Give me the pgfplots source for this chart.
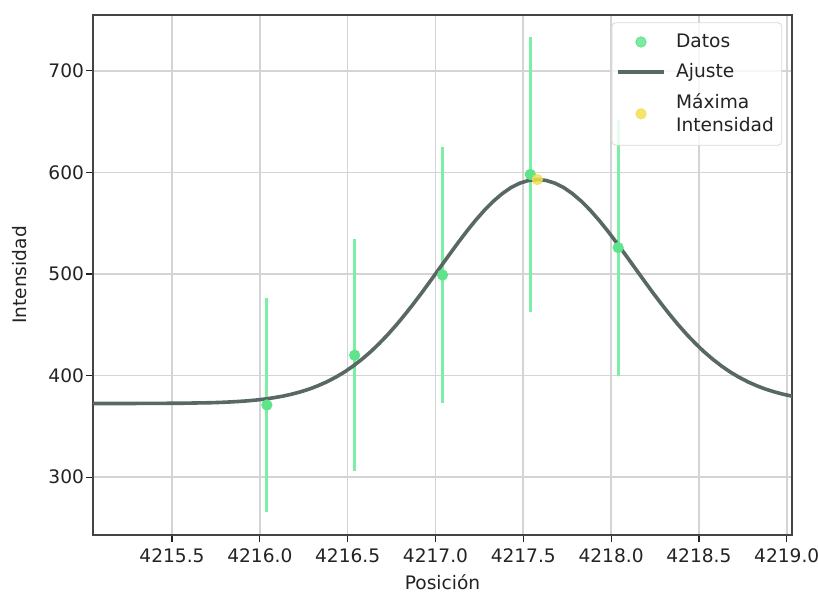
\documentclass[border=0pt]{standalone}
\usepackage{fontspec}
\setmainfont{DejaVu Sans}
\usepackage{pgfplots}
\usepackage{pgfplotstable}
\pgfplotsset{compat=1.18}

\definecolor{datgreen}{RGB}{95,228,140}
\definecolor{bargreen}{RGB}{125,238,165}
\definecolor{fitgray}{RGB}{88,104,100}
\definecolor{maxyellow}{RGB}{242,224,80}
\definecolor{gridgray}{RGB}{212,212,212}
\definecolor{txt}{RGB}{35,35,35}

% measured intensities with their uncertainties
\pgfplotstableread{
x        y    e
4216.04  371  105
4216.54  420  114
4217.04  499  126
4217.54  598  135
4218.04  526  126
}\datos

% fitted profile
\pgfplotstableread{
x        y
4215.03  372.5
4215.08  372.5
4215.13  372.5
4215.18  372.5
4215.23  372.5
4215.28  372.5
4215.33  372.6
4215.38  372.6
4215.43  372.6
4215.48  372.7
4215.53  372.7
4215.58  372.8
4215.63  373.0
4215.68  373.1
4215.73  373.3
4215.78  373.6
4215.83  374.0
4215.88  374.5
4215.93  375.1
4215.98  375.9
4216.03  376.9
4216.08  378.2
4216.13  379.7
4216.18  381.6
4216.23  383.9
4216.28  386.6
4216.33  389.9
4216.38  393.7
4216.43  398.2
4216.48  403.3
4216.53  409.2
4216.58  415.9
4216.63  423.3
4216.68  431.6
4216.73  440.6
4216.78  450.4
4216.83  460.9
4216.88  471.9
4216.93  483.4
4216.98  495.3
4217.03  507.3
4217.08  519.3
4217.13  531.1
4217.18  542.5
4217.23  553.2
4217.28  563.0
4217.33  571.7
4217.38  579.1
4217.43  585.1
4217.48  589.4
4217.53  592.1
4217.58  593.0
4217.63  592.1
4217.68  589.4
4217.73  585.1
4217.78  579.1
4217.83  571.7
4217.88  563.0
4217.93  553.2
4217.98  542.5
4218.03  531.1
4218.08  519.3
4218.13  507.3
4218.18  495.3
4218.23  483.4
4218.28  471.9
4218.33  460.9
4218.38  450.4
4218.43  440.6
4218.48  431.6
4218.53  423.3
4218.58  415.9
4218.63  409.2
4218.68  403.3
4218.73  398.2
4218.78  393.7
4218.83  389.9
4218.88  386.6
4218.93  383.9
4218.98  381.6
4219.03  379.7
4219.08  378.2
}\ajuste

\begin{document}
\begin{tikzpicture}
% page area: the axis box sits at (0,0)--(349.5pt,260pt)
\useasboundingbox (-46.5pt,-28pt) rectangle (362.5pt,267.5pt);
\begin{axis}[
  at={(0,0)}, anchor=south west,
  scale only axis,
  width=349.5pt, height=260pt,
  xmin=4215.05, xmax=4219.03,
  ymin=243, ymax=755,
  xtick={4215.5,4216.0,4216.5,4217.0,4217.5,4218.0,4218.5,4219.0},
  ytick={300,400,500,600,700},
  tick pos=left,
  grid=major,
  major grid style={gridgray, line width=0.8pt},
  tick align=outside,
  major tick length=3.5pt,
  tick style={txt, line width=0.6pt},
  axis line style={txt!85, line width=0.7pt},
  /pgf/number format/assume math mode=true,
  xticklabel style={/pgf/number format/.cd, fixed, fixed zerofill, precision=1, 1000 sep={}},
  yticklabel style={/pgf/number format/1000 sep={}, xshift=2.5pt},
  ticklabel style={font=\fontsize{9.3}{11}\selectfont, text=txt},
  label style={font=\fontsize{9.3}{11}\selectfont, text=txt},
  xlabel={Posición},
  ylabel={Intensidad},
  xlabel style={at={(axis description cs:0.5,0)}, anchor=center, yshift=-23.5pt},
  ylabel style={at={(axis description cs:0,0.5)}, anchor=center, yshift=36.5pt},
  legend image code/.code={%
    \draw[mark repeat=2, mark phase=2, #1]
      plot coordinates {(0cm,0cm) (0.41cm,0cm) (0.82cm,0cm)};},
  legend style={
    at={(axis description cs:0.986,0.986)}, anchor=north east,
    draw=gray!30, rounded corners=2pt,
    fill=white, fill opacity=0.8, text opacity=1,
    font=\fontsize{9.3}{11.5}\selectfont, text=txt,
    cells={anchor=west, align=left},
    inner xsep=2pt, inner ysep=3.5pt,
    column sep=3pt, row sep=2.5pt,
  },
]
\addplot[only marks, mark=*, mark size=2.6pt, color=datgreen,
  error bars/.cd, y dir=both, y explicit, error mark=none,
  error bar style={line width=1.4pt, bargreen}]
  table[x=x, y=y, y error=e] {\datos};
\addlegendentry{Datos}

\addplot[fitgray, line width=1.8pt, no marks] table[x=x, y=y] {\ajuste};
\addlegendentry{Ajuste}

\addplot[only marks, mark=*, mark size=2.6pt, color=maxyellow, opacity=0.85]
  coordinates {(4217.58,593)};
\addlegendentry{Máxima\\Intensidad}
\end{axis}
\end{tikzpicture}
\end{document}
